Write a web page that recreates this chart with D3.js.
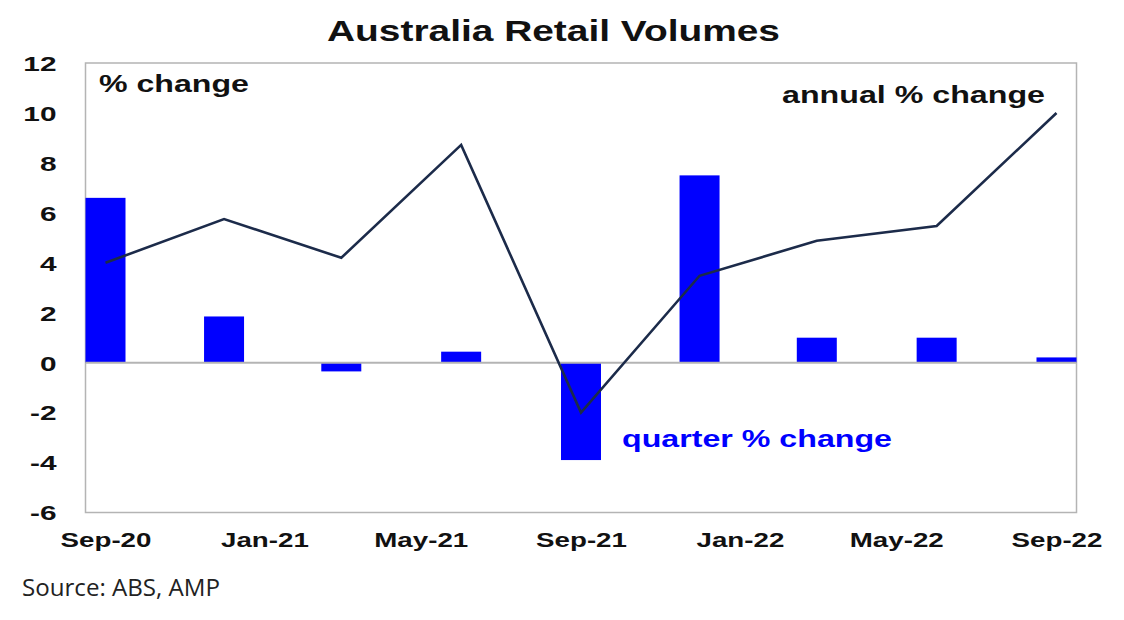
<!DOCTYPE html>
<html>
<head>
<meta charset="utf-8">
<script src="https://cdn.jsdelivr.net/npm/d3@7"></script>
<style>
  html, body { margin: 0; padding: 0; background: #ffffff; }
  svg { display: block; }
</style>
</head>
<body>
<svg id="chart" width="1124" height="620"></svg>
<script>
// ---- data ----
const quarters = ["2020-09", "2020-12", "2021-03", "2021-06", "2021-09", "2021-12", "2022-03", "2022-06", "2022-09"];
const quarterChange = [6.6, 1.85, -0.35, 0.44, -3.9, 7.5, 1.0, 1.0, 0.21];
const annualChange = [4.0, 5.75, 4.2, 8.72, -2.0, 3.48, 4.88, 5.47, 10.0];
const xTickMonths = ["2020-09", "2021-01", "2021-05", "2021-09", "2022-01", "2022-05", "2022-09"];
const yTicks = [-6, -4, -2, 0, 2, 4, 6, 8, 10, 12];

const title = "Australia Retail Volumes";
const unitLabel = "% change";
const annualLabel = "annual % change";
const quarterLabel = "quarter % change";
const sourceText = "Source: ABS, AMP";

// ---- layout ----
const svg = d3.select("#chart");
const frame = { left: 85.5, right: 1076.5, top: 63, bottom: 512.5 };
const barW = 40;
const parse = d3.utcParse("%Y-%m");

const x = d3.scaleUtc()
  .domain([parse(quarters[0]), parse(quarters[quarters.length - 1])])
  .range([frame.left + barW / 2, frame.right - barW / 2]);
const y = d3.scaleLinear().domain([-6, 12]).range([frame.bottom, frame.top]);

const data = quarters.map((q, i) => ({ date: parse(q), qc: quarterChange[i], ac: annualChange[i] }));

const boldFont = "'Liberation Sans', Arial, sans-serif";

// frame
svg.append("rect")
  .attr("x", frame.left).attr("y", frame.top)
  .attr("width", frame.right - frame.left).attr("height", frame.bottom - frame.top)
  .attr("fill", "none").attr("stroke", "#b4b4b4").attr("stroke-width", 1.5);

// bars
svg.append("g").selectAll("rect").data(data).join("rect")
  .attr("x", d => x(d.date) - barW / 2)
  .attr("width", barW)
  .attr("y", d => y(Math.max(0, d.qc)))
  .attr("height", d => Math.abs(y(d.qc) - y(0)))
  .attr("fill", "#0000ff");

// zero line
svg.append("line")
  .attr("x1", frame.left).attr("x2", frame.right)
  .attr("y1", y(0)).attr("y2", y(0))
  .attr("stroke", "#b4b4b4").attr("stroke-width", 2);

// annual line
svg.append("path")
  .datum(data)
  .attr("fill", "none")
  .attr("stroke", "#1c2b4a")
  .attr("stroke-width", 2.6)
  .attr("stroke-linejoin", "miter")
  .attr("d", d3.line().x(d => x(d.date)).y(d => y(d.ac)));

// y axis
const yAxis = svg.append("g")
  .attr("transform", `translate(${frame.left},0)`)
  .call(d3.axisLeft(y).tickValues(yTicks).tickSize(0).tickPadding(0).tickFormat(d => String(d)));
yAxis.select(".domain").remove();
yAxis.selectAll("text")
  .attr("font-family", boldFont).attr("font-weight", "bold").attr("font-size", 21)
  .attr("fill", "#111").attr("x", 0).attr("dy", "0.35em")
  .attr("transform", "translate(-29,0) scale(1.42,1)");

// x axis
const xAxis = svg.append("g")
  .attr("transform", `translate(0,${frame.bottom})`)
  .call(d3.axisBottom(x).tickValues(xTickMonths.map(parse)).tickSize(0).tickFormat(d3.utcFormat("%b-%y")));
xAxis.select(".domain").remove();
xAxis.selectAll(".tick text")
  .attr("font-family", boldFont).attr("font-weight", "bold").attr("font-size", 21)
  .attr("fill", "#111").attr("y", 0).attr("dy", 0)
  .attr("transform", "translate(0,34) scale(1.32,1)");

// texts
function label(txt, xx, yy, size, len, fill, family, weight) {
  return svg.append("text")
    .attr("x", xx).attr("y", yy)
    .attr("font-family", family).attr("font-weight", weight)
    .attr("font-size", size).attr("fill", fill)
    .attr("textLength", len).attr("lengthAdjust", "spacingAndGlyphs")
    .text(txt);
}
label(title, 327, 41, 30, 453, "#111", boldFont, "bold");
label(unitLabel, 99, 92, 23, 150, "#111", boldFont, "bold");
label(annualLabel, 782, 103, 23, 263, "#111", boldFont, "bold");
label(quarterLabel, 622, 447, 23, 270, "#0000ff", boldFont, "bold");
label(sourceText, 22, 596, 24, 198, "#222", "'Open Sans', 'Noto Sans', sans-serif", "normal");
</script>
</body>
</html>
